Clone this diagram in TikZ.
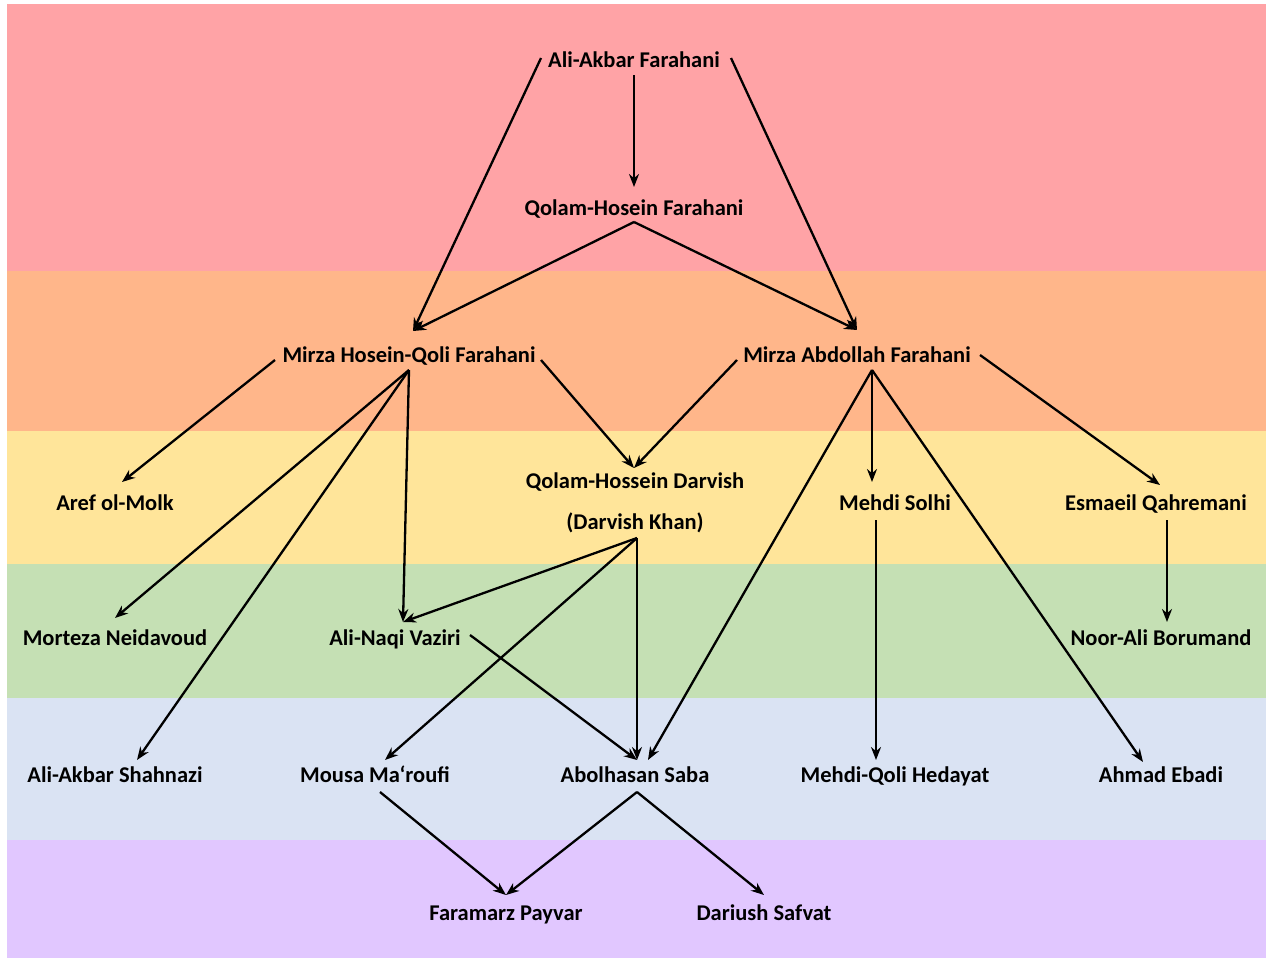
\documentclass[tikz,border=0pt]{standalone}
\usepackage{fontspec}
\setmainfont{Carlito}
\usepackage{tikz}
\usetikzlibrary{arrows.meta,calc}

\definecolor{bandred}{RGB}{255,163,166}
\definecolor{bandorange}{RGB}{255,182,138}
\definecolor{bandyellow}{RGB}{255,229,154}
\definecolor{bandgreen}{RGB}{197,224,180}
\definecolor{bandblue}{RGB}{218,227,243}
\definecolor{bandpurple}{RGB}{225,199,255}

\begin{document}
\begin{tikzpicture}[x=1pt,y=-1pt,>={Stealth[length=13pt,width=10pt]},
  person/.style={inner sep=0pt,text height=18pt,text depth=4pt,font=\fontsize{22.5}{41}\selectfont\bfseries,align=center},
  arr/.style={->,line width=2.3pt}]
\useasboundingbox (0,0) rectangle (1266,961);
% bands
\fill[bandred] (7,4) rectangle (1266,271);
\fill[bandorange] (7,271) rectangle (1266,431);
\fill[bandyellow] (7,431) rectangle (1266,564);
\fill[bandgreen] (7,564) rectangle (1266,698);
\fill[bandblue] (7,698) rectangle (1266,840);
\fill[bandpurple] (7,840) rectangle (1266,958);
% people
\node[person] (aa) at (634,60) {Ali-Akbar Farahani};
\node[person] (qh) at (634,208) {Qolam-Hosein Farahani};
\node[person] (mh) at (409,355) {Mirza Hosein-Qoli Farahani};
\node[person] (ma) at (857,355) {Mirza Abdollah Farahani};
\node[person] (aref) at (115,503) {Aref ol-Molk};
\node[person,text height=,text depth=] (qd) at (635,503) {Qolam-Hossein Darvish\\(Darvish Khan)};
\node[person] (ms) at (895,503) {Mehdi Solhi};
\node[person] (eq) at (1156,503) {Esmaeil Qahremani};
\node[person] (mn) at (115,638) {Morteza Neidavoud};
\node[person] (av) at (395,638) {Ali-Naqi Vaziri};
\node[person] (nb) at (1161,638) {Noor-Ali Borumand};
\node[person] (as) at (115,775) {Ali-Akbar Shahnazi};
\node[person] (mm) at (375,775) {Mousa Ma‘roufi};
\node[person] (ab) at (635,775) {Abolhasan Saba};
\node[person] (mq) at (895,775) {Mehdi-Qoli Hedayat};
\node[person] (ae) at (1161,775) {Ahmad Ebadi};
\node[person] (fp) at (506,913) {Faramarz Payvar};
\node[person] (ds) at (764,913) {Dariush Safvat};
% links
\draw[arr] ($(aa)+(-93,-2)$) -- ($(mh)+(4,-24)$);
\draw[arr] ($(aa)+(0,15)$) -- ($(qh)+(0,-21)$);
\draw[arr] ($(aa)+(97,-2)$) -- ($(ma)+(0,-25)$);
\draw[arr] ($(qh)+(0,14)$) -- ($(mh)+(4,-24)$);
\draw[arr] ($(qh)+(0,14)$) -- ($(ma)+(0,-25)$);
\draw[arr] ($(mh)+(-134,5)$) -- ($(aref)+(7,-21)$);
\draw[arr] ($(mh)+(0,15)$) -- ($(mn)+(0,-20)$);
\draw[arr] ($(mh)+(0,15)$) -- ($(av)+(8,-16)$);
\draw[arr] ($(mh)+(0,15)$) -- ($(as)+(22,-15)$);
\draw[arr] ($(mh)+(132,5)$) -- ($(qd)+(-1,-35)$);
\draw[arr] ($(ma)+(-120,5)$) -- ($(qd)+(-1,-35)$);
\draw[arr] ($(ma)+(15,15)$) -- ($(ms)+(-23,-21)$);
\draw[arr] ($(ma)+(15,15)$) -- ($(ab)+(13,-15)$);
\draw[arr] ($(ma)+(15,15)$) -- ($(ae)+(-18,-13)$);
\draw[arr] ($(ma)+(123,0)$) -- ($(eq)+(4,-18)$);
\draw[arr] ($(eq)+(11,17)$) -- ($(nb)+(6,-16)$);
\draw[arr] ($(ms)+(-19,17)$) -- ($(mq)+(-19,-15)$);
\draw[arr] ($(qd)+(2,35)$) -- ($(av)+(8,-16)$);
\draw[arr] ($(qd)+(2,35)$) -- ($(mm)+(10,-15)$);
\draw[arr] ($(qd)+(2,35)$) -- ($(ab)+(2,-15)$);
\draw[arr] ($(av)+(75,-3)$) -- ($(ab)+(2,-15)$);
\draw[arr] ($(mm)+(5,17)$) -- ($(fp)+(0,-18)$);
\draw[arr] ($(ab)+(2,17)$) -- ($(fp)+(0,-18)$);
\draw[arr] ($(ab)+(2,17)$) -- ($(ds)+(0,-18)$);
\end{tikzpicture}
\end{document}
